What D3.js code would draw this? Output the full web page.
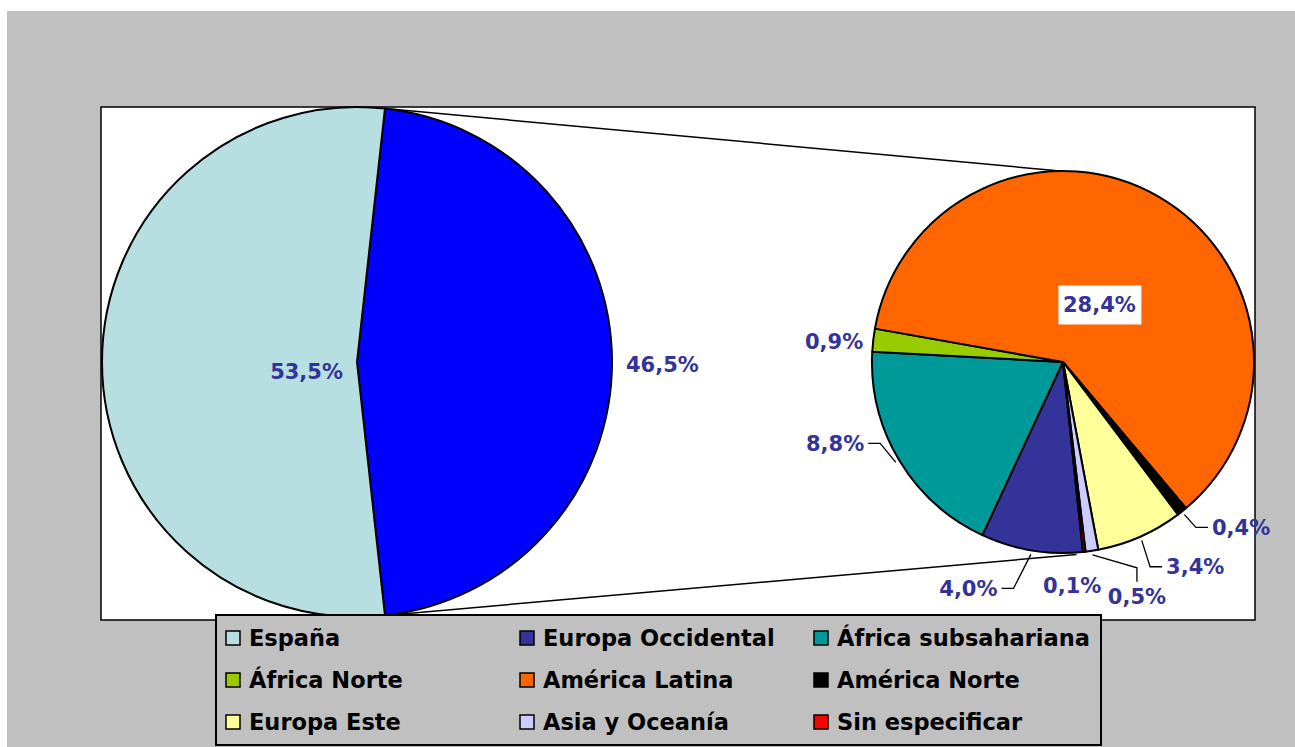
<!DOCTYPE html>
<html>
<head>
<meta charset="utf-8">
<script src="https://cdn.jsdelivr.net/npm/d3@7"></script>
<style>
  body { margin: 0; background: #ffffff; }
  text { font-family: "DejaVu Sans", Verdana, sans-serif; font-weight: bold; }
</style>
</head>
<body>
<svg id="chart"></svg>
<script>
// Data (percent of total)
const categories = ['España', 'Europa Occidental', 'África subsahariana', 'África Norte',
    'América Latina', 'América Norte', 'Europa Este', 'Asia y Oceanía', 'Sin especificar'];
const values = [53.5, 4.0, 8.8, 0.9, 28.4, 0.4, 3.4, 0.5, 0.1];
const colors = ['#B7DFE2', '#333399', '#009999', '#99CC00', '#FF6600', '#000000', '#FFFF99', '#CCCCFF', '#FF0000'];
const otherColor = '#0000FF';

const width = 1295, height = 747;
const svg = d3.select('#chart').attr('width', width).attr('height', height);

// gray chart area + white plot area
svg.append('rect').attr('x', 7).attr('y', 11).attr('width', width - 7).attr('height', height - 11)
    .attr('fill', '#C0C0C0');
svg.append('rect').attr('x', 101).attr('y', 107).attr('width', 1154).attr('height', 513)
    .attr('fill', '#ffffff').attr('stroke', '#000').attr('stroke-width', 1.5);

const fmt = v => d3.format('.1f')(v).replace('.', ',') + '%';
const labelColor = '#333399';

// --- primary pie: España vs the rest ---
const main = { x: 357, y: 362, r: 255 };
const second = { x: 1063, y: 362, r: 191 };

const restTotal = d3.sum(values.slice(1));
const mainData = [{ name: 'Otros', value: restTotal, color: otherColor },
                  { name: categories[0], value: values[0], color: colors[0] }];
const otherSpan = restTotal / d3.sum(values) * 2 * Math.PI;
const mainStart = Math.PI / 2 - otherSpan / 2;

const mainPie = d3.pie().sort(null).value(d => d.value)
    .startAngle(mainStart).endAngle(mainStart + 2 * Math.PI);
const mainArcs = mainPie(mainData);
const mainArc = d3.arc().innerRadius(0).outerRadius(main.r);

// --- secondary pie: breakdown of the rest ---
const secData = categories.slice(1).map((c, i) => ({ name: c, value: values[i + 1], color: colors[i + 1] }));
const secStart = 174 * Math.PI / 180;
const secPie = d3.pie().sort(null).value(d => d.value)
    .startAngle(secStart).endAngle(secStart + 2 * Math.PI);
const secArcs = secPie(secData);
const secArc = d3.arc().innerRadius(0).outerRadius(second.r);

const polar = (c, r, a) => [c.x + r * Math.sin(a), c.y - r * Math.cos(a)];

// connector lines between the two pies
const otherArc = mainArcs[0];
const connectors = [
    [polar(main, main.r, otherArc.startAngle), polar(second, second.r, -0.8 * Math.PI / 180)],
    [polar(main, main.r, otherArc.endAngle), polar(second, second.r + 2, secStart + 2 * Math.PI / 180)]
];
svg.selectAll('.connector').data(connectors).enter().append('line')
    .attr('class', 'connector')
    .attr('x1', d => d[0][0]).attr('y1', d => d[0][1])
    .attr('x2', d => d[1][0]).attr('y2', d => d[1][1])
    .attr('stroke', '#000').attr('stroke-width', 1.5);

svg.append('g').attr('transform', `translate(${main.x},${main.y})`)
    .selectAll('path').data(mainArcs).enter().append('path')
    .attr('d', mainArc)
    .attr('fill', d => d.data.color)
    .attr('stroke', '#000').attr('stroke-width', 2).attr('stroke-linejoin', 'round');

svg.append('g').attr('transform', `translate(${second.x},${second.y})`)
    .selectAll('path').data(secArcs).enter().append('path')
    .attr('d', secArc)
    .attr('fill', d => d.data.color)
    .attr('stroke', '#000').attr('stroke-width', 2).attr('stroke-linejoin', 'round');

// primary labels
const mainLabelPos = [
    { arc: mainArcs[1], r: 14, anchor: 'end', dx: 0, dy: 10 },
    { arc: mainArcs[0], r: main.r + 14, anchor: 'start', dx: 0, dy: 3 }
];
mainLabelPos.forEach(l => {
    const mid = (l.arc.startAngle + l.arc.endAngle) / 2;
    const p = polar(main, l.r, mid);
    svg.append('text')
        .attr('x', p[0] + l.dx).attr('y', p[1] + l.dy)
        .attr('dy', '.35em')
        .attr('text-anchor', l.anchor)
        .style('font-size', '21px').style('fill', labelColor)
        .text(fmt(l.arc.value));
});

// secondary labels: nudges from the slice edge, plus leader lines
const labelCfg = {
    'Europa Occidental':   { dx: -34, dy: 38, anchor: 'end', leader: 'h' },
    'África subsahariana': { dx: -35, dy: -17, anchor: 'end', leader: 'h' },
    'África Norte':        { dx: -10, dy: 2, anchor: 'end' },
    'América Latina':      { inside: true },
    'América Norte':       { dx: 30, dy: 16, anchor: 'start', leader: 'h' },
    'Europa Este':         { dx: 26, dy: 30, anchor: 'start', leader: 'h' },
    'Asia y Oceanía':      { dx: 45, dy: 46, anchor: 'middle', leader: 'v' },
    'Sin especificar':     { dx: -12, dy: 34, anchor: 'middle' }
};
const insideArc = d3.arc().innerRadius(0).outerRadius(second.r * 0.72);

secArcs.forEach(d => {
    const cfg = labelCfg[d.data.name];
    const mid = (d.startAngle + d.endAngle) / 2;
    if (cfg.inside) {
        const c = insideArc.centroid(d);
        const x = second.x + c[0] + 2, y = second.y + c[1] + 2;
        svg.append('rect').attr('x', x - 41).attr('y', y - 19).attr('width', 83).attr('height', 39)
            .attr('fill', '#fff');
        svg.append('text').attr('x', x).attr('y', y).attr('dy', '.35em')
            .attr('text-anchor', 'middle')
            .style('font-size', '21px').style('fill', labelColor)
            .text(fmt(d.data.value));
        return;
    }
    const edge = polar(second, second.r, mid);
    const lx = edge[0] + cfg.dx, ly = edge[1] + cfg.dy;
    if (cfg.leader) {
        const s = polar(second, second.r + 4, mid);
        let pts;
        if (cfg.leader === 'h') {
            const side = cfg.anchor === 'end' ? 1 : -1;
            const e = [lx + side * 4, ly];
            pts = [s, [e[0] + side * 12, e[1]], e];
        } else {
            const e = [lx, ly - 15];
            pts = [s, [lx, e[1] - 14], e];
        }
        svg.append('polyline').attr('points', pts.map(p => p.join(',')).join(' '))
            .attr('fill', 'none').attr('stroke', '#000').attr('stroke-width', 1.3);
    }
    svg.append('text').attr('x', lx).attr('y', ly).attr('dy', '.35em')
        .attr('text-anchor', cfg.anchor)
        .style('font-size', '21px').style('fill', labelColor)
        .text(fmt(d.data.value));
});

// legend, 3 columns, row-major
const legend = svg.append('g').attr('transform', 'translate(216,615)');
legend.append('rect').attr('width', 885).attr('height', 130)
    .attr('fill', '#C0C0C0').attr('stroke', '#000').attr('stroke-width', 2);
const items = legend.selectAll('.legend-item').data(categories).enter().append('g')
    .attr('class', 'legend-item')
    .attr('transform', (d, i) => `translate(${10 + (i % 3) * 294},${23 + Math.floor(i / 3) * 42})`);
items.append('rect').attr('y', -7).attr('width', 14).attr('height', 14)
    .attr('fill', (d, i) => colors[i]).attr('stroke', '#000').attr('stroke-width', 1.5);
items.append('text').attr('x', 23).attr('dy', '.36em')
    .style('font-size', '22.5px').style('fill', '#000')
    .text(d => d);
</script>
</body>
</html>
